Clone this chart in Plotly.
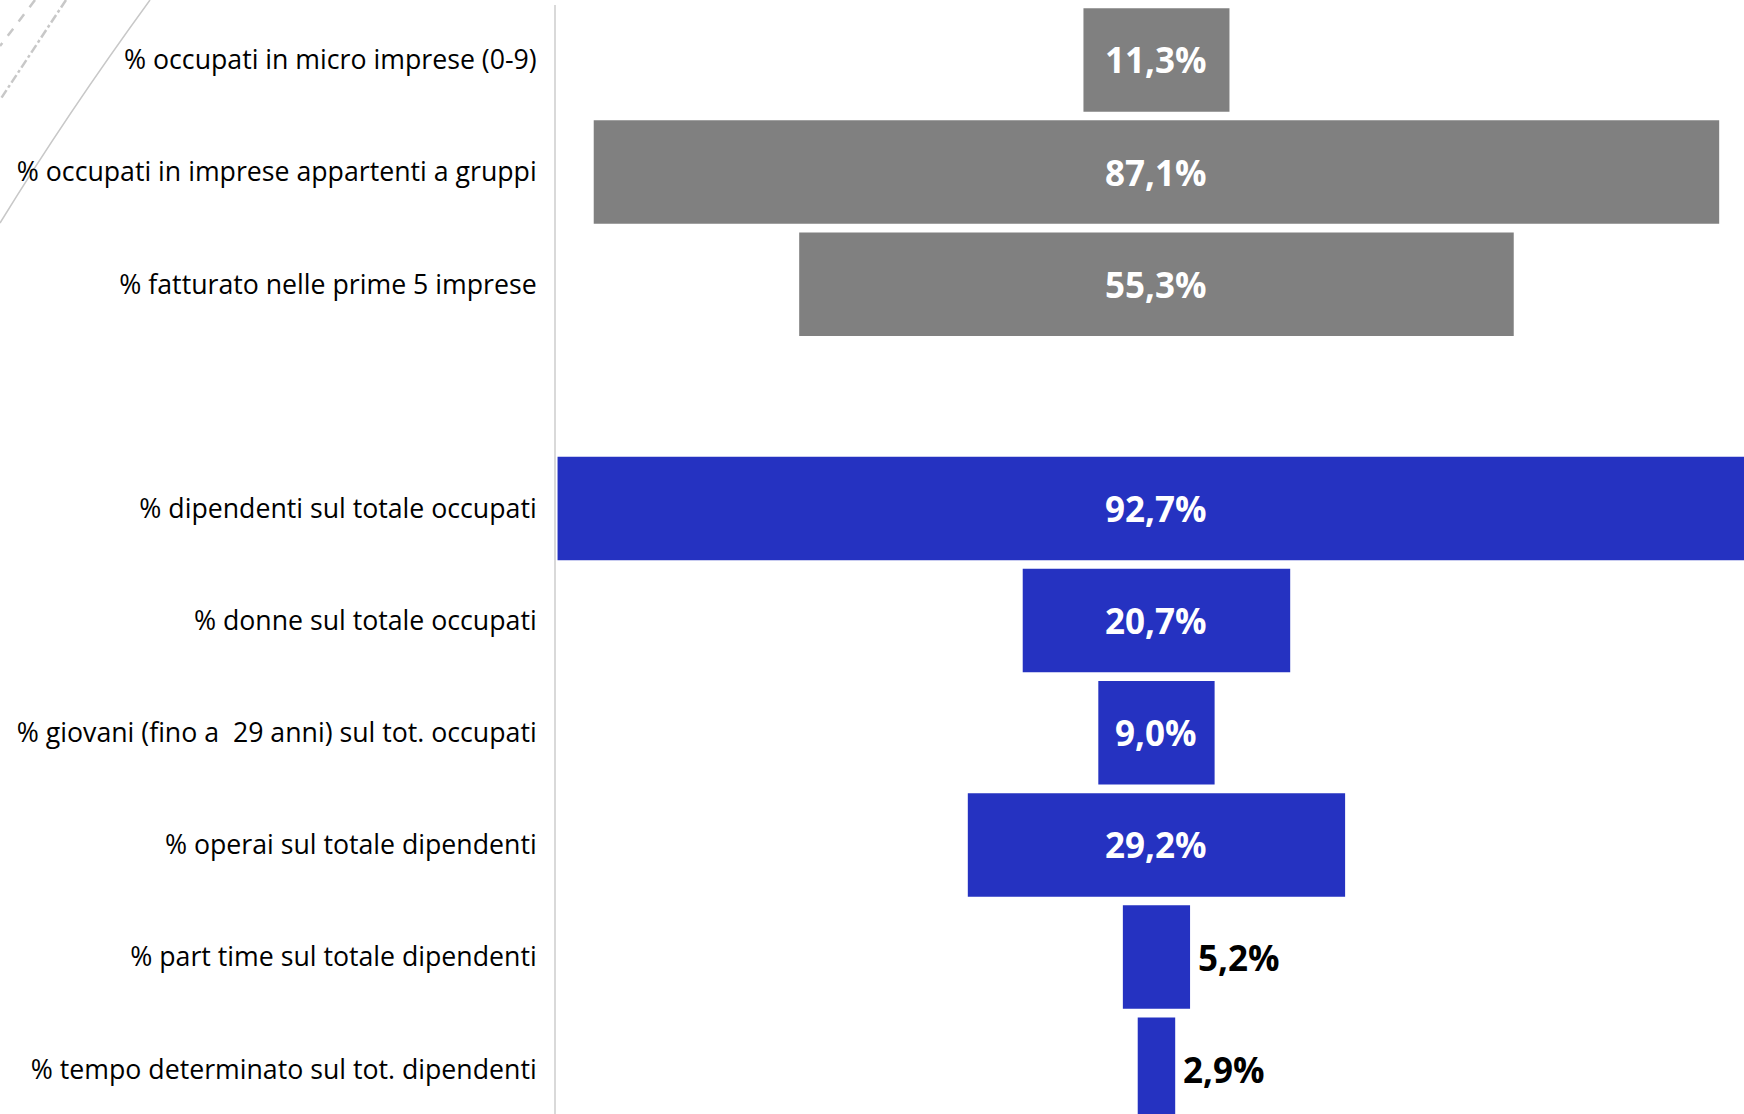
import plotly.graph_objects as go

# ---- data ----
categories = [
    "% occupati in micro imprese (0-9)",
    "% occupati in imprese appartenti a gruppi",
    "% fatturato nelle prime 5 imprese",
    " ",
    "% dipendenti sul totale occupati",
    "% donne sul totale occupati",
    "% giovani (fino a  29 anni) sul tot. occupati",
    "% operai sul totale dipendenti",
    "% part time sul totale dipendenti",
    "% tempo determinato sul tot. dipendenti",
]
values = [11.3, 87.1, 55.3, None, 92.7, 20.7, 9.0, 29.2, 5.2, 2.9]
groups = ["imprese", "imprese", "imprese", None,
          "occupati", "occupati", "occupati", "occupati", "occupati", "occupati"]

GRAY = "#808080"
BLUE = "#2532C1"
group_colors = {"imprese": GRAY, "occupati": BLUE, None: "rgba(0,0,0,0)"}

W, H = 1744, 1114
ML, MR, MT, MB = 556, 0, 5, 0

def fmt(v):
    return f"{v:.1f}%".replace(".", ",")

xs = [0 if v is None else v for v in values]
bases = [-x / 2 for x in xs]
colors = [group_colors[g] for g in groups]

fig = go.Figure(
    go.Bar(
        y=categories,
        x=xs,
        base=bases,
        orientation="h",
        marker=dict(color=colors, line=dict(width=0)),
        hoverinfo="skip",
    )
)

# value labels: centred (white) in wide bars, to the right (black) in narrow ones
annotations = []
for cat, v in zip(categories, values):
    if v is None:
        continue
    out = v < 7
    annotations.append(dict(
        x=(v / 2) if out else 0,
        y=cat,
        xref="x", yref="y",
        text=fmt(v),
        showarrow=False,
        xanchor="left" if out else "center",
        yanchor="middle",
        xshift=6 if out else 0,
        yshift=0,
        font=dict(family="Open Sans", size=35, color="black" if out else "white", weight="bold"),
    ))

# ---- decorative lines in the top-left corner (pixel -> paper) ----
pw, ph = W - ML - MR, H - MT - MB

def px(xp):
    return (xp - ML) / pw

def py(yp):
    return (H - MB - yp) / ph

shapes = [
    dict(type="path", xref="paper", yref="paper",
         path=f"M {px(150)},{py(0)} Q {px(67)},{py(114)} {px(0)},{py(223)}",
         line=dict(color="#c8c8c8", width=1.5), layer="below"),
    dict(type="line", xref="paper", yref="paper",
         x0=px(66), y0=py(0), x1=px(0), y1=py(100),
         line=dict(color="#c8c8c8", width=2.5, dash="dashdot"), layer="below"),
    dict(type="line", xref="paper", yref="paper",
         x0=px(35), y0=py(0), x1=px(0), y1=py(46),
         line=dict(color="#c8c8c8", width=2.5, dash="dash"), layer="below"),
]

fig.update_layout(
    width=W,
    height=H,
    margin=dict(l=ML, r=MR, t=MT, b=MB, autoexpand=False),
    paper_bgcolor="white",
    plot_bgcolor="white",
    bargap=0.077,
    showlegend=False,
    shapes=shapes,
    annotations=annotations,
    xaxis=dict(
        range=[-46.47, 45.47],
        visible=False,
        fixedrange=True,
    ),
    yaxis=dict(
        type="category",
        categoryorder="array",
        categoryarray=categories,
        range=[9.40, -0.49],
        showgrid=False,
        zeroline=False,
        showline=True,
        linecolor="#d9d9d9",
        linewidth=2,
        ticks="",
        ticklabelstandoff=12,
        tickfont=dict(family="Open Sans", size=26.7, color="black"),
        fixedrange=True,
    ),
)

fig.write_html("out.html", config={"displayModeBar": False},
               post_script="document.body.style.margin='0';")
